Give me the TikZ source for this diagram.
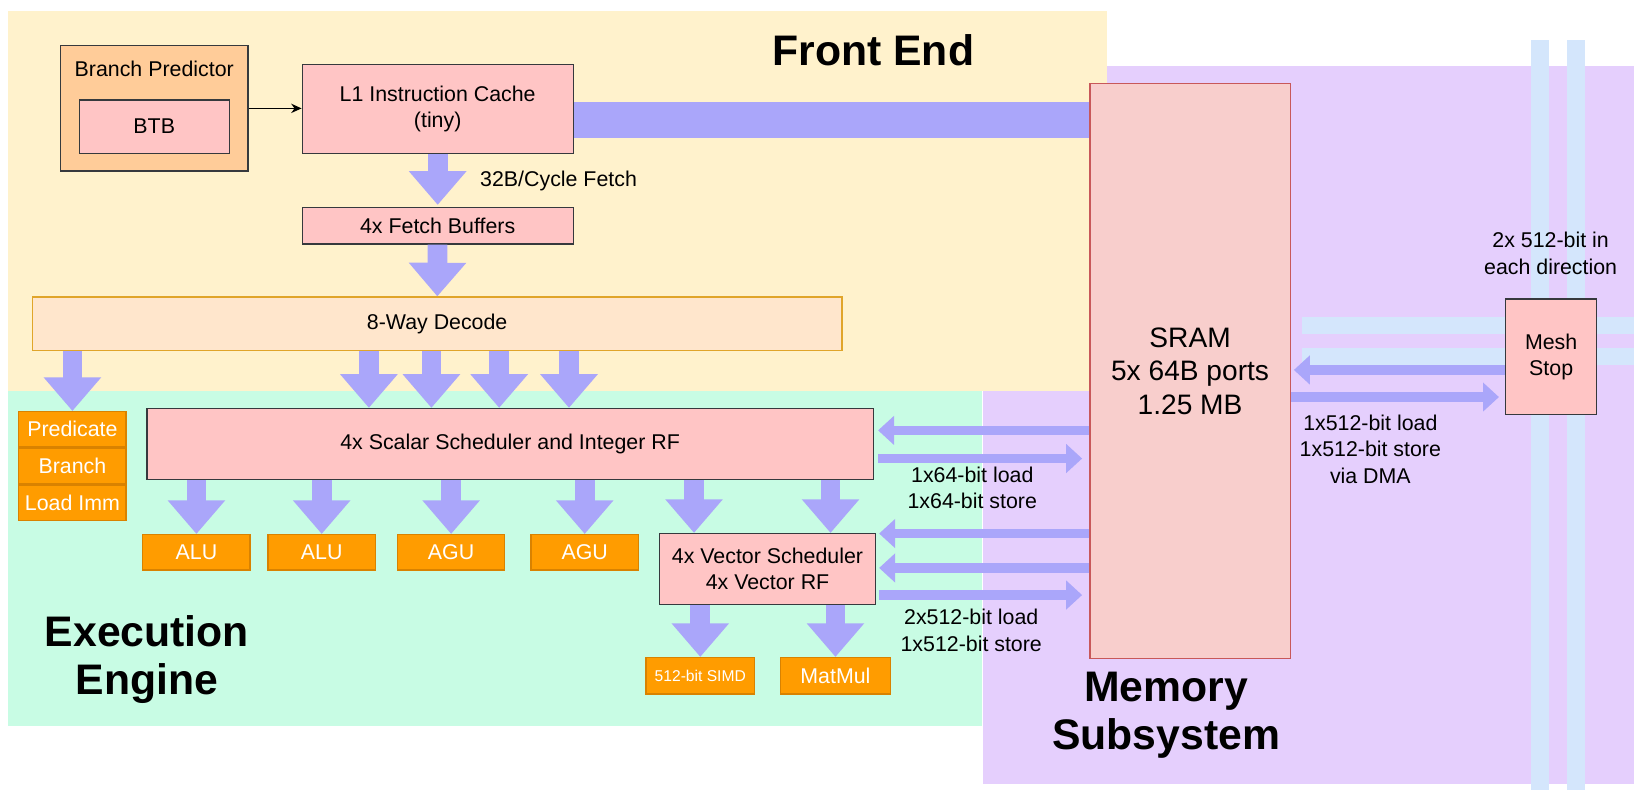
\documentclass[tikz,border=0pt]{standalone}
\usepackage{fontspec}
\setmainfont{Liberation Sans}
\usetikzlibrary{positioning,calc,arrows.meta}

\definecolor{feyellow}{HTML}{FFF2CC}
\definecolor{exgreen}{HTML}{C8FCE4}
\definecolor{memfill}{HTML}{E5CFFD}
\definecolor{meshfill}{HTML}{D4E6FC}
\definecolor{boxpink}{HTML}{FFC5C5}
\definecolor{boxline}{HTML}{36393D}
\definecolor{bpfill}{HTML}{FFCC99}
\definecolor{decfill}{HTML}{FFE6CC}
\definecolor{decline}{HTML}{E0A52A}
\definecolor{unitfill}{HTML}{FF9C00}
\definecolor{unitline}{HTML}{D98200}
\definecolor{sramfill}{HTML}{F8CECC}
\definecolor{sramline}{HTML}{C8585A}
\definecolor{flow}{HTML}{AAA6FA}

\newcommand{\txtnorm}{\fontsize{20.5}{25.5}\selectfont}
\newcommand{\txtsmall}{\fontsize{15}{18}\selectfont}
\newcommand{\txtsram}{\fontsize{27}{32}\selectfont}
\newcommand{\txttitle}{\fontsize{41}{46}\selectfont\bfseries}

\tikzset{
	box/.style={draw=boxline,fill=boxpink,line width=1.2pt,inner sep=0pt,align=center,font=\txtnorm},
	unit/.style={draw=unitline,fill=unitfill,line width=1.2pt,inner sep=0pt,text=white,font=\txtnorm,minimum width=103pt,minimum height=34pt},
	bigarrow/.style={draw=flow,line width=19pt,-{Triangle[length=0pt 1.7,width=0pt 2.8]}},
	busarrow/.style={draw=flow,line width=9pt,-{Triangle[length=0pt 1.7,width=0pt 3]}},
	lbl/.style={align=center,font=\txtnorm,inner sep=0pt}
}

\begin{document}
\begin{tikzpicture}[x=1pt,y=-1pt]
		\useasboundingbox (0,0) rectangle (1568,758);
		\fill[white] (0,0) rectangle (1568,758);
		% regions
		\fill[memfill] (943,63) rectangle (1568,752);
		\fill[meshfill] (1469,38) rectangle (1486,758);
		\fill[meshfill] (1504,38) rectangle (1521,758);
		\fill[meshfill] (1249,304) rectangle (1568,320.5);
		\fill[meshfill] (1249,334) rectangle (1568,350.5);
		\fill[feyellow] (8,11) rectangle (1062,375);
		\fill[exgreen] (8,375) rectangle (942,697);
		%
		\node[box,fill=bpfill,minimum width=180pt,minimum height=120pt] (bp) at (148,104) {};
		\node[lbl,below=15pt of bp.north] (bptxt) {Branch Predictor};
		\node[box,minimum width=144pt,minimum height=51pt] (btb) at (148,121.5) {BTB};
		\node[box,minimum width=260pt,minimum height=85pt] (l1) at (420,104.5) {L1 Instruction Cache\\(tiny)};
		\node[box,minimum width=260pt,minimum height=35pt,below=51pt of l1] (fb) {4x Fetch Buffers};
		\node[box,draw=decline,fill=decfill,minimum width=777pt,minimum height=51pt] (dec) at (419.5,310.5) {8-Way Decode};
		\node[box,minimum width=697pt,minimum height=68pt] (sched) at (489.5,426) {4x Scalar Scheduler and Integer RF};
		\node[unit] (pred) at (69.5,412) {Predicate};
		\node[unit,below=0pt of pred] (br) {Branch};
		\node[unit,below=0pt of br] (ldi) {Load Imm};
		\node[unit] (alu1) at (188.5,530) {ALU};
		\node[unit,right=16pt of alu1] (alu2) {ALU};
		\node[unit,right=20pt of alu2] (agu1) {AGU};
		\node[unit,right=24pt of agu1] (agu2) {AGU};
		\node[box,minimum width=207pt,minimum height=68pt] (vec) at (736.5,546) {4x Vector Scheduler\\4x Vector RF};
		\node[unit,minimum width=104pt,minimum height=35pt,font=\txtsmall] (simd) at (672,648.5) {512-bit SIMD};
		\node[unit,minimum width=105pt,minimum height=35pt,right=24pt of simd] (matmul) {MatMul};
		\node[box,draw=sramline,fill=sramfill,minimum width=192pt,minimum height=552pt,font=\txtsram] (sram) at (1142,356) {SRAM\\5x 64B ports\\1.25 MB};
		\node[box,minimum width=87pt,minimum height=111pt] (mesh) at (1488.5,342.5) {Mesh\\Stop};
		%
		\draw[-{Stealth[length=10pt,width=9pt]},line width=1.2pt] (bp.east |- 0,104) -- (l1.west |- 0,104);
		\draw[flow,line width=34pt] (l1.east |- 0,115) -- (sram.west |- 0,115);
		\draw[bigarrow,shorten >=2pt] (l1) -- (fb);
		\draw[bigarrow] (fb) -- (dec);
		\draw[bigarrow] (dec.south -| pred.north) -- (pred.north);
		\foreach \x in {354,414,479,546}
			\draw[bigarrow] (dec.south -| \x,0) -- (sched.north -| \x,0);
		\foreach \u in {alu1,alu2,agu1,agu2}
			\draw[bigarrow] (sched.south -| \u.north) -- (\u.north);
		\foreach \x in {666,797}
			\draw[bigarrow] (sched.south -| \x,0) -- (vec.north -| \x,0);
		\foreach \u in {simd,matmul}
			\draw[bigarrow] (vec.south -| \u.north) -- (\u.north);
		%
		\draw[busarrow,shorten >=4pt] (sram.west |- 0,413) -- (sched.east |- 0,413);
		\draw[busarrow,shorten <=4pt,shorten >=7pt] (sched.east |- 0,440) -- (sram.west |- 0,440);
		\draw[busarrow,shorten >=3pt] (sram.west |- 0,512) -- (vec.east |- 0,512);
		\draw[busarrow,shorten >=3pt] (sram.west |- 0,545) -- (vec.east |- 0,545);
		\draw[busarrow,shorten <=3pt,shorten >=7pt] (vec.east |- 0,571) -- (sram.west |- 0,571);
		\draw[busarrow,shorten >=3pt] (mesh.west |- 0,355) -- (sram.east |- 0,355);
		\draw[busarrow,shorten >=6pt] (sram.east |- 0,381) -- (mesh.west |- 0,381);
		%
		\node[lbl] (fetchlbl) at (536,174) {32B/Cycle Fetch};
		\node[lbl] (slbl) at (933,468) {1x64-bit load\\1x64-bit store};
		\node[lbl] (vlbl) at (932,605) {2x512-bit load\\1x512-bit store};
		\node[lbl] (dmalbl) at (1315,431) {1x512-bit load\\1x512-bit store\\via DMA};
		\node[lbl] (meshlbl) at (1488,243) {2x 512-bit in\\each direction};
		\node[lbl,font=\txttitle] (fe) at (838,48) {Front End};
		\node[lbl,font=\txttitle] (ee) at (141,633) {Execution\\Engine};
		\node[lbl,font=\txttitle] (ms) at (1119,686) {Memory\\Subsystem};
\end{tikzpicture}
\end{document}
